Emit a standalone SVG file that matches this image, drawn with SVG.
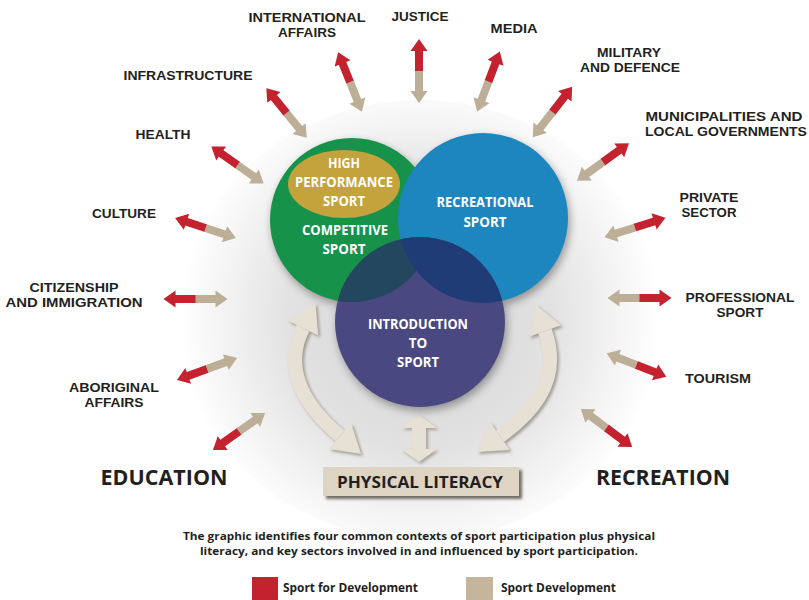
<svg xmlns="http://www.w3.org/2000/svg" xmlns:xlink="http://www.w3.org/1999/xlink" width="809" height="600" viewBox="0 0 809 600">
<defs>
<style>
.lbl{font-family:"Liberation Sans","Open Sans",sans-serif;font-weight:700;font-size:13px;fill:#231f20;text-anchor:middle}
.big{font-family:"Open Sans","Liberation Sans",sans-serif;font-weight:700;font-size:22px;fill:#231f20;text-anchor:middle}
.pl{font-family:"Open Sans","Liberation Sans",sans-serif;font-weight:700;font-size:16px;fill:#231f20;text-anchor:middle}
.cap{font-family:"Open Sans","Liberation Sans",sans-serif;font-weight:700;font-size:11px;fill:#231f20;text-anchor:middle}
.leg{font-family:"Open Sans","Liberation Sans",sans-serif;font-weight:700;font-size:12px;fill:#231f20}
.wt{font-family:"Open Sans","Liberation Sans",sans-serif;font-weight:700;font-size:13.5px;fill:#ffffff;text-anchor:middle}
.red{fill:#c4222e}
.tan{fill:#bcae97}
.beige{fill:#e6e0d5}
.bshaft{fill:none;stroke:#e6e0d5;stroke-width:14}
.sshaft{fill:none;stroke:#8f8a80;stroke-width:14}
</style>
<radialGradient id="glow" cx="420" cy="320" r="240" gradientUnits="userSpaceOnUse">
<stop offset="0" stop-color="#d4d4d4"/>
<stop offset="0.55" stop-color="#e2e2e2"/>
<stop offset="1" stop-color="#ffffff"/>
</radialGradient>
<filter id="sh" x="-20%" y="-20%" width="140%" height="140%">
<feGaussianBlur stdDeviation="4"/>
</filter>
<filter id="sh2" x="-20%" y="-20%" width="140%" height="140%">
<feGaussianBlur stdDeviation="1.5"/>
</filter>
<clipPath id="clipP"><circle cx="420" cy="322" r="85"/></clipPath>
<g id="arr">
<path class="tan" d="M1,-4 L-20,-4 L-20,-8.5 L-32,0 L-20,8.5 L-20,4 L1,4 Z"/>
<path class="red" d="M0,-4 L20,-4 L20,-8.5 L32,0 L20,8.5 L20,4 L0,4 Z"/>
</g>
</defs>
<rect width="809" height="600" fill="#ffffff"/>
<ellipse cx="420" cy="320" rx="240" ry="220" fill="url(#glow)"/>

<g id="connectors">
<use xlink:href="#arr" href="#arr" transform="translate(350,82) rotate(-111.8)"/>
<use xlink:href="#arr" href="#arr" transform="translate(419,71) rotate(-90)"/>
<use xlink:href="#arr" href="#arr" transform="translate(488.5,81.5) rotate(-69.3)"/>
<use xlink:href="#arr" href="#arr" transform="translate(552.5,112) rotate(-52)"/>
<use xlink:href="#arr" href="#arr" transform="translate(603,162) rotate(-35.8)"/>
<use xlink:href="#arr" href="#arr" transform="translate(635,227.5) rotate(-17.6)"/>
<use xlink:href="#arr" href="#arr" transform="translate(639.5,298) rotate(0)"/>
<use xlink:href="#arr" href="#arr" transform="translate(636.5,365) rotate(21.5)"/>
<use xlink:href="#arr" href="#arr" transform="translate(606.5,428) rotate(36.7)"/>
<use xlink:href="#arr" href="#arr" transform="translate(239,431.5) rotate(144.6)"/>
<use xlink:href="#arr" href="#arr" transform="translate(207,369) rotate(159.9)"/>
<use xlink:href="#arr" href="#arr" transform="translate(195.5,299) rotate(180)"/>
<use xlink:href="#arr" href="#arr" transform="translate(205.5,228) rotate(-161.8)"/>
<use xlink:href="#arr" href="#arr" transform="translate(237.5,165) rotate(-144.8)"/>
<use xlink:href="#arr" href="#arr" transform="translate(286.5,113) rotate(-129.1)"/>

<g id="curve-left">
<g transform="translate(2,2)" filter="url(#sh2)" opacity="0.8">
<path class="sshaft" d="M303,328 Q276,382 340,436"/>
<polygon fill="#8f8a80" points="315.5,303 318.2,335.6 287.8,320.4"/>
<polygon fill="#8f8a80" points="361,454 328.9,448.9 351.1,423.1"/>
</g>
<path class="bshaft" d="M303,328 Q276,382 340,436"/>
<polygon class="beige" points="315.5,303 318.2,335.6 287.8,320.4"/>
<polygon class="beige" points="361,454 328.9,448.9 351.1,423.1"/>
</g>
<g id="curve-right">
<g transform="translate(2,2)" filter="url(#sh2)" opacity="0.8">
<path class="sshaft" d="M545,331 Q566,390 500,436"/>
<polygon fill="#8f8a80" points="535.6,304.6 561,325.3 529,336.7"/>
<polygon fill="#8f8a80" points="477,452 490.3,422.1 509.7,449.9"/>
</g>
<path class="bshaft" d="M545,331 Q566,390 500,436"/>
<polygon class="beige" points="535.6,304.6 561,325.3 529,336.7"/>
<polygon class="beige" points="477,452 490.3,422.1 509.7,449.9"/>
</g>
<g id="vert-arrow">
<polygon fill="#8f8a80" opacity="0.7" filter="url(#sh2)" transform="translate(2,2)" points="419,415 437,428 426,428 426,449 437,449 419,462 401,449 412,449 412,428 401,428"/>
<polygon class="beige" points="419,415 437,428 426,428 426,449 437,449 419,462 401,449 412,449 412,428 401,428"/>
</g>
</g>

<g id="circles-shadow" filter="url(#sh)" opacity="0.35" transform="translate(2,4)">
<circle cx="352" cy="220" r="82" fill="#000"/>
<circle cx="483" cy="218" r="85" fill="#000"/>
<circle cx="420" cy="322" r="85" fill="#000"/>
</g>

<g id="competitive-sport">
<circle cx="352" cy="220" r="82" fill="#17924a"/>
</g>
<g id="recreational-sport">
<circle cx="483" cy="218" r="85" fill="#1e86bf"/>
</g>
<g id="introduction-to-sport">
<circle cx="420" cy="322" r="85" fill="#4a4880"/>
<g clip-path="url(#clipP)">
<circle cx="352" cy="220" r="82" fill="#23475f"/>
<circle cx="483" cy="218" r="85" fill="#1f3c77"/>
</g>
<text class="wt" x="418" y="329" textLength="100" lengthAdjust="spacingAndGlyphs">INTRODUCTION</text>
<text class="wt" x="418" y="348">TO</text>
<text class="wt" x="418" y="367" textLength="42" lengthAdjust="spacingAndGlyphs">SPORT</text>
</g>
<g id="competitive-text">
<text class="wt" x="345" y="235" textLength="86" lengthAdjust="spacingAndGlyphs">COMPETITIVE</text>
<text class="wt" x="344" y="254" textLength="43" lengthAdjust="spacingAndGlyphs">SPORT</text>
</g>
<g id="recreational-text">
<text class="wt" x="485" y="207" textLength="97" lengthAdjust="spacingAndGlyphs">RECREATIONAL</text>
<text class="wt" x="485" y="227" textLength="43" lengthAdjust="spacingAndGlyphs">SPORT</text>
</g>
<g id="high-performance-sport">
<ellipse cx="344" cy="184" rx="56" ry="34" fill="#c4a23c"/>
<text class="wt" x="344" y="168" textLength="32" lengthAdjust="spacingAndGlyphs">HIGH</text>
<text class="wt" x="344" y="187" textLength="98" lengthAdjust="spacingAndGlyphs">PERFORMANCE</text>
<text class="wt" x="344" y="206" textLength="42" lengthAdjust="spacingAndGlyphs">SPORT</text>
</g>

<g id="physical-literacy">
<rect x="326" y="470" width="196" height="29" fill="#6f6a62" filter="url(#sh2)"/>
<rect x="323" y="467" width="196" height="29" fill="#ddd4c4"/>
<text class="pl" x="420" y="488" textLength="166" lengthAdjust="spacingAndGlyphs">PHYSICAL LITERACY</text>
</g>

<g id="international-affairs"><text class="lbl" x="307" y="22" textLength="117" lengthAdjust="spacingAndGlyphs">INTERNATIONAL</text><text class="lbl" x="307" y="37" textLength="58" lengthAdjust="spacingAndGlyphs">AFFAIRS</text></g>
<g id="justice"><text class="lbl" x="420" y="21" textLength="57" lengthAdjust="spacingAndGlyphs">JUSTICE</text></g>
<g id="media"><text class="lbl" x="514" y="33" textLength="47" lengthAdjust="spacingAndGlyphs">MEDIA</text></g>
<g id="military"><text class="lbl" x="629" y="57" textLength="64" lengthAdjust="spacingAndGlyphs">MILITARY</text><text class="lbl" x="630" y="72" textLength="100" lengthAdjust="spacingAndGlyphs">AND DEFENCE</text></g>
<g id="municipalities"><text class="lbl" x="724" y="121" textLength="157" lengthAdjust="spacingAndGlyphs">MUNICIPALITIES AND</text><text class="lbl" x="726" y="136" textLength="162" lengthAdjust="spacingAndGlyphs">LOCAL GOVERNMENTS</text></g>
<g id="private-sector"><text class="lbl" x="709" y="202" textLength="59" lengthAdjust="spacingAndGlyphs">PRIVATE</text><text class="lbl" x="709" y="217" textLength="55" lengthAdjust="spacingAndGlyphs">SECTOR</text></g>
<g id="professional-sport"><text class="lbl" x="740" y="302" textLength="109" lengthAdjust="spacingAndGlyphs">PROFESSIONAL</text><text class="lbl" x="740" y="317" textLength="47" lengthAdjust="spacingAndGlyphs">SPORT</text></g>
<g id="tourism"><text class="lbl" x="718" y="383" textLength="66" lengthAdjust="spacingAndGlyphs">TOURISM</text></g>
<g id="infrastructure"><text class="lbl" x="188" y="80" textLength="129" lengthAdjust="spacingAndGlyphs">INFRASTRUCTURE</text></g>
<g id="health"><text class="lbl" x="163" y="139" textLength="55" lengthAdjust="spacingAndGlyphs">HEALTH</text></g>
<g id="culture"><text class="lbl" x="124" y="218" textLength="64" lengthAdjust="spacingAndGlyphs">CULTURE</text></g>
<g id="citizenship"><text class="lbl" x="74" y="292" textLength="89" lengthAdjust="spacingAndGlyphs">CITIZENSHIP</text><text class="lbl" x="74" y="307" textLength="137" lengthAdjust="spacingAndGlyphs">AND IMMIGRATION</text></g>
<g id="aboriginal"><text class="lbl" x="114" y="392" textLength="90" lengthAdjust="spacingAndGlyphs">ABORIGINAL</text><text class="lbl" x="114" y="407" textLength="59" lengthAdjust="spacingAndGlyphs">AFFAIRS</text></g>
<g id="education"><text class="big" x="164" y="485" textLength="127" lengthAdjust="spacingAndGlyphs">EDUCATION</text></g>
<g id="recreation"><text class="big" x="663" y="485" textLength="134" lengthAdjust="spacingAndGlyphs">RECREATION</text></g>

<g id="caption">
<text class="cap" x="419" y="540" textLength="472" lengthAdjust="spacingAndGlyphs">The graphic identifies four common contexts of sport participation plus physical</text>
<text class="cap" x="419" y="555" textLength="438" lengthAdjust="spacingAndGlyphs">literacy, and key sectors involved in and influenced by sport participation.</text>
</g>
<g id="legend">
<rect x="252" y="577" width="26" height="23" class="red"/>
<text class="leg" x="283" y="592" textLength="135" lengthAdjust="spacingAndGlyphs">Sport for Development</text>
<rect x="466" y="577" width="27" height="23" fill="#c4b59c"/>
<text class="leg" x="501" y="592" textLength="115" lengthAdjust="spacingAndGlyphs">Sport Development</text>
</g>
</svg>
